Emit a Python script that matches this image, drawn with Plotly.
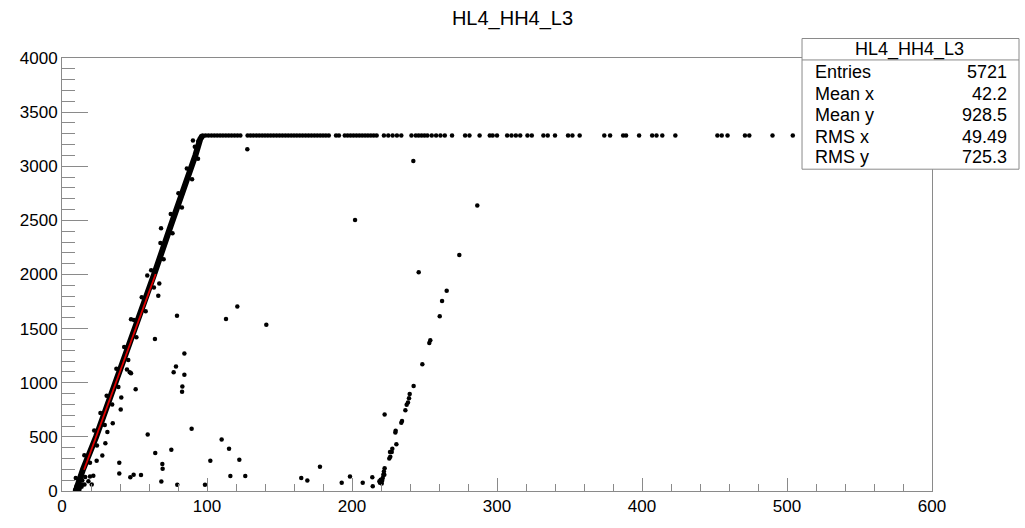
import plotly.graph_objects as go

# --- data ------------------------------------------------------------------
title_text = "HL4_HH4_L3"

# centre of the dense diagonal band (drawn as a thick line of dots)
band_x = [9.5, 14.5, 23.5, 37.0, 50.5, 63.5, 75.0, 86.0, 92.0, 95.3, 97.0]
band_y = [0, 200, 500, 1000, 1500, 2000, 2450, 2850, 3100, 3250, 3285]

# rough points on the edges of the band
edge_x = [9.5, 15.4, 22.2, 26.5, 30.8, 37.5, 42.9, 49.6, 55.0, 61.5, 67.9, 75.0, 80.3, 86.1, 91.6,
          14.0, 19.3, 24.1, 29.5, 34.6, 38.9, 45.7, 51.3, 57.7, 63.4, 70.1, 76.2, 82.7, 89.7, 93.8,
          9.0, 10.5, 12.0, 13.5, 11.5, 14.0, 15.5, 12.8, 16.0, 10.0, 94.0, 96.0]
edge_y = [120, 330, 560, 720, 880, 1130, 1330, 1580, 1790, 2040, 2290, 2560, 2750, 2980, 3180,
          60, 260, 420, 610, 800, 960, 1210, 1420, 1660, 1880, 2140, 2380, 2620, 2880, 3070,
          10, 20, 15, 40, 70, 100, 60, 140, 130, 45, 3230, 3270]

# saturated plateau
plateau_level = 3285
plateau_x = [97, 99, 101, 103, 105, 107, 109, 111, 113, 115, 117, 119, 121, 123, 128, 130, 132,
             134, 136, 138, 140, 142, 144, 146, 148, 150, 152, 154, 156, 158, 160, 162, 164, 166,
             168, 170, 172, 174, 176, 178, 180, 182, 184, 189, 191, 195, 197, 199, 201, 203, 205,
             207, 209, 211, 213, 215, 217, 222, 225, 228, 231, 234, 241, 244, 246, 248, 250, 252,
             255, 258, 261, 264, 269, 278, 281, 288, 295, 297, 300, 307, 310, 313, 316, 321, 324,
             332, 335, 340, 349, 352, 357, 374, 378, 387, 389, 398, 407, 410, 414, 423, 452, 455,
             459, 471, 474, 490, 504]
plateau_y = [plateau_level] * len(plateau_x)

# isolated points and the second (shifted) branch
pts_x = [90.3, 127.8, 242.3, 286.4, 202.1, 274.0, 246.0, 265.3, 262.1, 260.5, 120.9, 113.1, 140.9,
         253.3, 254.0, 248.5, 242.5, 239.8, 239.3, 238.6, 237.7, 236.8, 234.5, 234.0, 222.5, 230.1,
         229.9, 230.6, 227.8, 227.4, 226.2, 225.7, 226.4, 222.5, 222.0, 221.6, 222.3, 221.2, 219.8,
         218.9, 219.3, 220.5, 219.5, 220.8, 214.0, 214.3, 207.4, 198.6, 192.9, 177.9, 169.2, 165.0,
         126.4, 116.1, 122.3, 115.2, 110.1, 102.3, 98.6, 89.4, 66.4, 79.3, 64.1, 84.4, 78.6, 77.0,
         84.4, 83.0, 82.8, 44.8, 46.7, 47.6, 50.8, 40.9, 40.5, 35.0, 31.3, 29.9, 27.8, 23.9, 59.1,
         64.3, 75.4, 69.2, 69.4, 39.5, 39.5, 47.1, 49.4, 54.5, 68.5, 79.5, 19.3, 21.6, 18.2, 20.5,
         68.3, 58.8, 67.1, 47.6]
pts_y = [3237, 3156, 3048, 2637, 2504, 2179, 2020, 1849, 1756, 1614, 1704, 1589, 1536,
         1368, 1392, 1170, 971, 896, 857, 818, 797, 746, 647, 631, 707, 556,
         541, 433, 391, 361, 361, 301, 316, 211, 180, 150, 150, 121, 105,
         90, 76, 69, 85, 95, 126, 45, 76, 135, 76, 225, 96, 121,
         139, 139, 289, 391, 475, 280, 58, 574, 1803, 1620, 1404, 1271, 1149, 1097,
         1073, 965, 917, 1122, 1097, 1088, 941, 863, 752, 626, 545, 442, 328, 280, 523,
         352, 382, 250, 205, 262, 162, 126, 151, 148, 87, 58, 135, 142, 90, 60,
         2428, 1990, 1918, 1587]

# linear fit drawn in red
fit_x = [15.2, 64.6]
fit_y = [196, 2005]

stat_labels = ["Entries", "Mean x", "Mean y", "RMS x", "RMS y"]
stat_values = ["5721", "42.2", "928.5", "49.49", "725.3"]

# --- figure ------------------------------------------------------------------
FONT = "Liberation Sans, Arial, Helvetica, sans-serif"
AXIS_COLOR = "#8a8a8a"
dot = dict(color="black", size=4.5, line=dict(width=0))

fig = go.Figure()
fig.add_trace(go.Scatter(x=band_x, y=band_y, mode="lines",
                         line=dict(color="black", width=6), hoverinfo="skip"))
fig.add_trace(go.Scatter(x=edge_x, y=edge_y, mode="markers", marker=dot))
fig.add_trace(go.Scatter(x=plateau_x, y=plateau_y, mode="markers", marker=dot))
fig.add_trace(go.Scatter(x=pts_x, y=pts_y, mode="markers", marker=dot))
fig.add_trace(go.Scatter(x=fit_x, y=fit_y, mode="lines",
                         line=dict(color="#e00000", width=1.8)))

fig.update_xaxes(range=[0, 600], tick0=0, dtick=100, ticks="inside", ticklen=13,
                 tickcolor=AXIS_COLOR, showline=True, linecolor=AXIS_COLOR, linewidth=1,
                 mirror=True, showgrid=False, zeroline=False,
                 minor=dict(ticks="inside", ticklen=7, dtick=20, tickcolor=AXIS_COLOR,
                            showgrid=False),
                 tickfont=dict(family=FONT, size=17, color="black"))
fig.update_yaxes(range=[0, 4000], tick0=0, dtick=500, ticks="inside", ticklen=26,
                 tickcolor=AXIS_COLOR, showline=True, linecolor=AXIS_COLOR, linewidth=1,
                 mirror=True, showgrid=False, zeroline=False,
                 minor=dict(ticks="inside", ticklen=13, dtick=100, tickcolor=AXIS_COLOR,
                            showgrid=False),
                 tickfont=dict(family=FONT, size=17, color="black"))

# statistics box (ROOT style)
box_x0, box_x1 = 0.8506, 1.1000
box_y0, box_y1 = 0.7432, 1.0450
fig.add_shape(type="rect", xref="paper", yref="paper", x0=box_x0, x1=box_x1,
              y0=box_y0, y1=box_y1, fillcolor="white",
              line=dict(color=AXIS_COLOR, width=1), layer="above")
fig.add_shape(type="line", xref="paper", yref="paper", x0=box_x0, x1=box_x1,
              y0=0.9955, y1=0.9955, line=dict(color=AXIS_COLOR, width=1), layer="above")
fig.add_annotation(text=title_text, xref="paper", yref="paper", x=0.9747, y=1.0203,
                   xanchor="center", yanchor="middle", showarrow=False,
                   font=dict(family=FONT, size=18, color="black"))
row_y = [0.9685, 0.9167, 0.8694, 0.8176, 0.7703]
for lab, val, yy in zip(stat_labels, stat_values, row_y):
    fig.add_annotation(text=lab, xref="paper", yref="paper", x=0.8632, y=yy,
                       xanchor="left", yanchor="middle", showarrow=False,
                       font=dict(family=FONT, size=18, color="black"))
    fig.add_annotation(text=val, xref="paper", yref="paper", x=1.0885, y=yy,
                       xanchor="right", yanchor="middle", showarrow=False,
                       font=dict(family=FONT, size=18, color="black"))

fig.update_layout(
    width=1025, height=528,
    margin=dict(l=62, r=93, t=58, b=26),
    paper_bgcolor="white", plot_bgcolor="white",
    showlegend=False,
    title=dict(text=title_text, x=0.5, xref="container", xanchor="center",
               y=1 - 18 / 528, yanchor="middle",
               font=dict(family=FONT, size=20, color="black")),
)

# drop the default page margin so the figure sits at the window origin
fig.write_html("out.html", config={"displayModeBar": False},
               post_script="document.body.style.margin = '0';")
